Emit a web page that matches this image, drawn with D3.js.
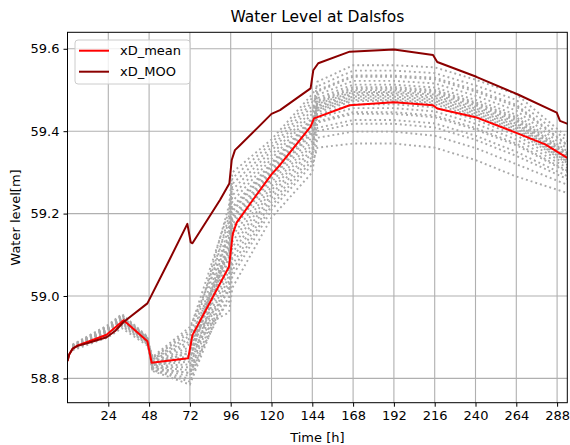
<!DOCTYPE html>
<html><head><meta charset="utf-8">
<script src="https://cdn.jsdelivr.net/npm/d3@7"></script>
<style>body{margin:0;background:#fff;} svg{display:block;} text{font-family:"DejaVu Sans",sans-serif;fill:#000;}</style>
</head><body>
<svg id="c" width="570" height="445"></svg>
<script>
const title = "Water Level at Dalsfos";
const xLabel = "Time [h]";
const yLabel = "Water level[m]";
const xTicks = [24,48,72,96,120,144,168,192,216,240,264,288];
const yTicks = [58.8,59.0,59.2,59.4,59.6];
const seriesNames = ["xD_mean","xD_MOO"];

const meanT = [0,1,3,6,12,23,33,47,49.5,71,73.5,95,97.2,99.5,109,120,125,143,145,166,192,215,217.5,240,264,281,294];
const meanV = [58.842,58.858,58.872,58.880,58.889,58.906,58.941,58.890,58.838,58.849,58.905,59.071,59.150,59.178,59.233,59.295,59.318,59.411,59.431,59.463,59.470,59.463,59.455,59.434,59.396,59.368,59.335];

const mooT = [0,1,3,6,12,23,28,33,47,60,70.5,72.5,73.5,89.7,95.2,96.6,98.5,101,120,125,143,144.6,147.5,166,192,215,217.5,240.5,265,287.8,289.7,294.7];
const mooV = [58.842,58.858,58.872,58.879,58.886,58.900,58.915,58.937,58.982,59.088,59.175,59.130,59.128,59.233,59.273,59.330,59.354,59.364,59.442,59.451,59.504,59.548,59.565,59.593,59.598,59.585,59.568,59.532,59.489,59.445,59.425,59.417];

const ensT = [3,24,32,47,50,72,95,97,120,144,147,168,192,216,240,264,294];
const ens = [
 [58.868,58.900,58.922,58.880,58.837,58.862,58.986,59.048,59.209,59.319,59.360,59.370,59.370,59.360,59.330,59.290,59.250],
 [58.870,58.905,58.927,58.883,58.849,58.911,58.960,59.020,59.190,59.300,59.384,59.399,59.399,59.389,59.359,59.320,59.270],
 [58.872,58.909,58.932,58.887,58.825,58.813,59.064,59.132,59.266,59.376,59.408,59.427,59.427,59.419,59.389,59.350,59.291],
 [58.873,58.911,58.935,58.888,58.818,58.785,59.025,59.090,59.238,59.348,59.421,59.442,59.442,59.434,59.404,59.366,59.301],
 [58.874,58.914,58.937,58.890,58.842,58.883,59.103,59.174,59.295,59.405,59.432,59.456,59.456,59.448,59.418,59.380,59.311],
 [58.875,58.915,58.939,58.891,58.830,58.834,59.090,59.160,59.285,59.395,59.440,59.465,59.465,59.458,59.428,59.390,59.318],
 [58.876,58.916,58.940,58.892,58.852,58.925,59.142,59.216,59.323,59.433,59.446,59.473,59.473,59.465,59.435,59.398,59.323],
 [58.876,58.917,58.942,58.893,58.821,58.799,59.051,59.118,59.257,59.367,59.453,59.480,59.480,59.473,59.443,59.406,59.328],
 [58.877,58.919,58.943,58.894,58.838,58.869,59.121,59.194,59.308,59.418,59.459,59.488,59.488,59.481,59.451,59.414,59.334],
 [58.877,58.920,58.944,58.895,58.833,58.848,59.168,59.244,59.342,59.452,59.466,59.495,59.495,59.489,59.459,59.422,59.339],
 [58.878,58.921,58.946,58.895,58.845,58.897,59.111,59.182,59.300,59.410,59.472,59.503,59.503,59.497,59.467,59.430,59.345],
 [58.879,58.923,58.948,58.897,58.827,58.820,59.077,59.146,59.276,59.386,59.480,59.513,59.513,59.506,59.476,59.440,59.351],
 [58.879,58.924,58.949,58.898,58.835,58.855,59.194,59.272,59.361,59.471,59.488,59.522,59.522,59.516,59.486,59.450,59.358],
 [58.880,58.926,58.952,58.899,58.823,58.806,59.132,59.205,59.315,59.425,59.499,59.535,59.535,59.530,59.500,59.464,59.367],
 [58.881,58.928,58.954,58.900,58.840,58.876,59.220,59.300,59.380,59.490,59.509,59.547,59.547,59.541,59.511,59.476,59.376],
 [58.882,58.930,58.956,58.902,58.832,58.841,59.155,59.230,59.333,59.443,59.520,59.560,59.560,59.555,59.525,59.490,59.385],
 [58.871,58.906,58.929,58.884,58.844,58.890,59.012,59.076,59.228,59.338,59.400,59.418,59.418,59.409,59.379,59.340,59.284],
 [58.874,58.912,58.936,58.889,58.828,58.827,59.116,59.188,59.304,59.414,59.424,59.446,59.446,59.438,59.408,59.370,59.304],
 [58.875,58.916,58.940,58.891,58.847,58.904,59.181,59.258,59.352,59.462,59.456,59.484,59.484,59.477,59.447,59.410,59.331],
 [58.876,58.918,58.942,58.893,58.820,58.792,59.038,59.104,59.247,59.357,59.450,59.476,59.476,59.469,59.439,59.402,59.326],
 [58.878,58.920,58.945,58.895,58.837,58.862,59.095,59.166,59.289,59.399,59.469,59.499,59.499,59.493,59.463,59.426,59.342],
 [58.879,58.923,58.949,58.897,58.850,58.918,59.207,59.286,59.371,59.481,59.475,59.507,59.507,59.500,59.470,59.434,59.347],
 [58.881,58.927,58.953,58.900,58.825,58.813,58.999,59.062,59.219,59.329,59.496,59.532,59.532,59.526,59.496,59.460,59.365],
 [58.873,58.911,58.934,58.888,58.833,58.848,59.137,59.210,59.319,59.429,59.462,59.492,59.492,59.485,59.455,59.418,59.336]
];

const W = 570, H = 445;
const m = {left:67.5, right:570-567.3, top:32.3, bottom:445-402.7};
const svg = d3.select("#c");
const x = d3.scaleLinear().domain([0,294]).range([m.left, W-m.right]);
const y = d3.scaleLinear().domain([58.741,59.64]).range([H-m.bottom, m.top]);

svg.append("defs").append("clipPath").attr("id","clip").append("rect")
  .attr("x",m.left).attr("y",m.top).attr("width",W-m.left-m.right).attr("height",H-m.top-m.bottom);

// grid
const g = svg.append("g");
g.selectAll(".gx").data(xTicks).enter().append("line")
  .attr("x1",d=>x(d)).attr("x2",d=>x(d)).attr("y1",m.top).attr("y2",H-m.bottom)
  .attr("stroke","#b0b0b0").attr("stroke-width",1.1);
g.selectAll(".gy").data(yTicks).enter().append("line")
  .attr("y1",d=>y(d)).attr("y2",d=>y(d)).attr("x1",m.left).attr("x2",W-m.right)
  .attr("stroke","#b0b0b0").attr("stroke-width",1.1);

const plot = svg.append("g").attr("clip-path","url(#clip)");
const line = d3.line().x(d=>x(d[0])).y(d=>y(d[1]));

ens.forEach(vals=>{
  plot.append("path").datum(ensT.map((t,i)=>[t,vals[i]])).attr("d",line)
    .attr("fill","none").attr("stroke","#a9a9a9").attr("stroke-width",1.9)
    .attr("stroke-dasharray","1.9,3.0");
});
plot.append("path").datum(meanT.map((t,i)=>[t,meanV[i]])).attr("d",line)
  .attr("fill","none").attr("stroke","#ff0000").attr("stroke-width",2).attr("stroke-linejoin","round");
plot.append("path").datum(mooT.map((t,i)=>[t,mooV[i]])).attr("d",line)
  .attr("fill","none").attr("stroke","#8b0000").attr("stroke-width",2).attr("stroke-linejoin","round");

// axes
const xa = svg.append("g").attr("transform",`translate(0,${H-m.bottom})`)
  .call(d3.axisBottom(x).tickValues(xTicks).tickSize(4).tickPadding(4).tickFormat(d3.format("d")));
const ya = svg.append("g").attr("transform",`translate(${m.left},0)`)
  .call(d3.axisLeft(y).tickValues(yTicks).tickSize(4).tickPadding(4).tickFormat(d3.format(".1f")));
[xa,ya].forEach(a=>{
  a.select(".domain").remove();
  a.selectAll("text").style("font-size","13px").style("font-family","DejaVu Sans");
  a.selectAll("line").attr("stroke","#000");
});
svg.append("rect").attr("x",m.left).attr("y",m.top).attr("width",W-m.left-m.right).attr("height",H-m.top-m.bottom)
  .attr("fill","none").attr("stroke","#000").attr("stroke-width",1);

svg.append("text").attr("x",(m.left+W-m.right)/2).attr("y",22).attr("text-anchor","middle")
  .style("font-size","15.5px").text(title);
svg.append("text").attr("x",(m.left+W-m.right)/2).attr("y",442).attr("text-anchor","middle")
  .style("font-size","13px").text(xLabel);
svg.append("text").attr("transform",`translate(20,${(m.top+H-m.bottom)/2}) rotate(-90)`).attr("text-anchor","middle")
  .style("font-size","13px").text(yLabel);

// legend
const lg = svg.append("g");
lg.append("rect").attr("x",75).attr("y",40).attr("width",115).attr("height",44).attr("rx",3)
  .attr("fill","#fff").attr("fill-opacity",0.8).attr("stroke","#cccccc").attr("stroke-width",1);
const legColors = ["#ff0000","#8b0000"];
seriesNames.forEach((n,i)=>{
  const yy = 50.7 + i*21;
  lg.append("line").attr("x1",79).attr("x2",109).attr("y1",yy).attr("y2",yy)
    .attr("stroke",legColors[i]).attr("stroke-width",2);
  lg.append("text").attr("x",120).attr("y",yy+4.5).style("font-size","13px").text(n);
});
</script>
</body></html>
